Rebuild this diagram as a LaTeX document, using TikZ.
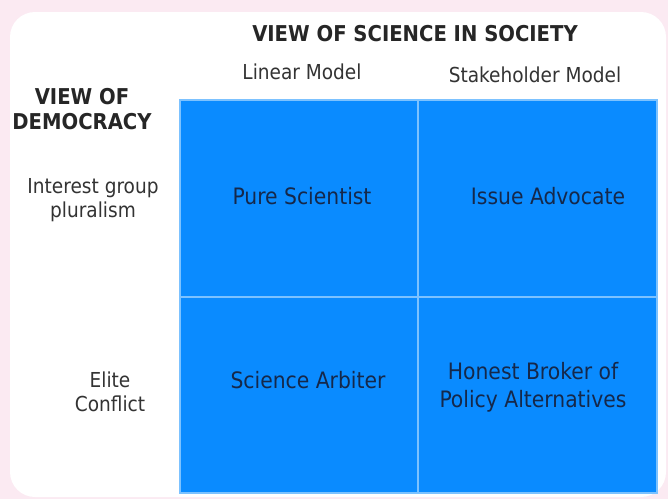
\documentclass[tikz,border=0pt]{standalone}
\usepackage{fontspec}
\setmainfont{DejaVu Sans Condensed}
\usepackage{tikz}
\definecolor{bgpink}{HTML}{FBEAF2}
\definecolor{cellblue}{HTML}{0A8BFF}
\definecolor{gridblue}{HTML}{7CC2FF}
\definecolor{cellink}{HTML}{15284A}
\definecolor{labelgray}{HTML}{333333}

\begin{document}
\begin{tikzpicture}[x=0.5pt,y=-0.5pt,
    hdr/.style={font=\bfseries\fontsize{10.9}{12.5}\selectfont,text=black!85,align=center},
    lbl/.style={font=\fontsize{10.3}{12}\selectfont,text=labelgray,align=center},
    cell/.style={font=\fontsize{11.3}{14}\selectfont,text=cellink,align=center}]
                    \fill[bgpink] (0,0) rectangle (668,499);
                    \useasboundingbox (0,0) rectangle (668,499);
                    \fill[white,rounded corners=12.5pt] (10,12) rectangle (666,497);
                    \fill[cellblue] (180,100) rectangle (657,493);
                    \draw[gridblue,line width=0.6pt] (180,100) rectangle (657,493);
                    \draw[gridblue,line width=1pt] (418,100) -- (418,493);
                    \draw[gridblue,line width=1pt] (180,297) -- (657,297);
                    \node[hdr] (title) at (415,34) {VIEW OF SCIENCE IN SOCIETY};
                    \node[lbl] (linear) at (302,72) {Linear Model};
                    \node[lbl] (stake) at (535,75) {Stakeholder Model};
                    \node[hdr] (democ) at (82,109) {VIEW OF\\DEMOCRACY};
                    \node[lbl] (interest) at (93,200) {Interest group\\pluralism};
                    \node[lbl] (elite) at (110,392) {Elite\\Conflict};
                    \node[cell] (pure) at (302,196) {Pure Scientist};
                    \node[cell] (issue) at (548,196) {Issue Advocate};
                    \node[cell] (arbiter) at (308,380) {Science Arbiter};
                    \node[cell] (broker) at (533,387) {Honest Broker of\\Policy Alternatives};
                \end{tikzpicture}
\end{document}
